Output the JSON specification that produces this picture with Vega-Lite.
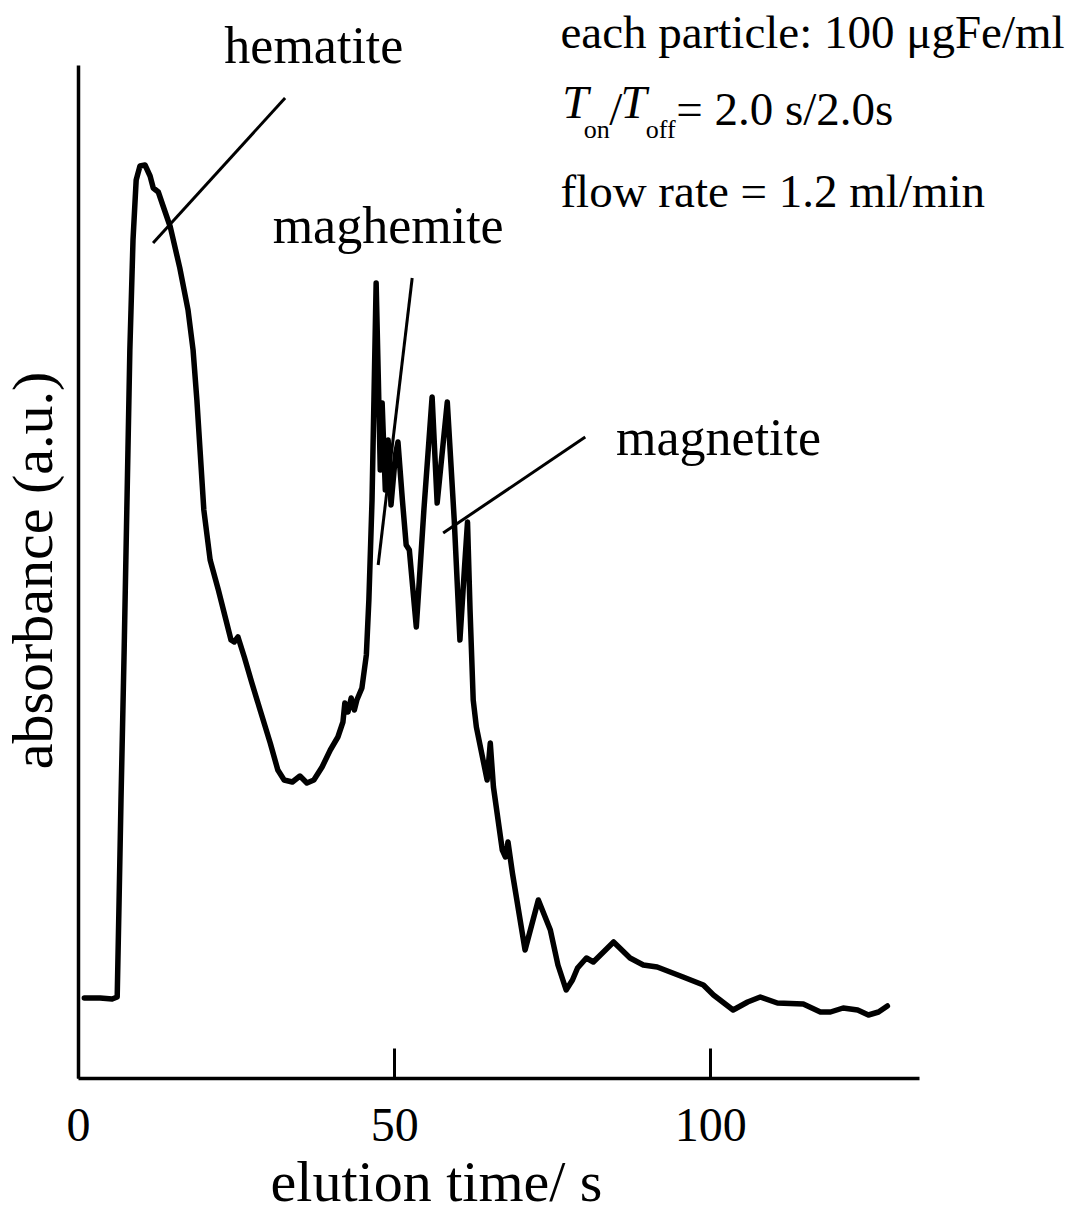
{
  "$schema": "https://vega.github.io/schema/vega-lite/v6.json",
  "width": 841,
  "height": 1013,
  "autosize": {"type": "none"},
  "padding": {"left": 78, "top": 65, "right": 168, "bottom": 151},
  "background": "white",
  "config": {"view": {"stroke": null}, "font": "Liberation Serif"},
  "datasets": {
    "curve": [
      {"t": 1.0, "a": 8.0}, {"t": 3.5, "a": 8.0}, {"t": 5.4, "a": 7.9}, {"t": 6.2, "a": 8.1},
      {"t": 6.5, "a": 17.8}, {"t": 6.8, "a": 27.8}, {"t": 7.3, "a": 42.8}, {"t": 7.75, "a": 57.8},
      {"t": 8.2, "a": 72.8}, {"t": 8.7, "a": 83.8}, {"t": 9.2, "a": 89.8}, {"t": 9.8, "a": 91.2},
      {"t": 10.6, "a": 91.3}, {"t": 11.4, "a": 90.2}, {"t": 11.9, "a": 89.0}, {"t": 12.7, "a": 88.6},
      {"t": 13.4, "a": 87.3}, {"t": 14.6, "a": 85.1}, {"t": 16.1, "a": 81.0}, {"t": 17.4, "a": 76.8},
      {"t": 18.2, "a": 72.8}, {"t": 18.8, "a": 67.8}, {"t": 19.3, "a": 62.8}, {"t": 19.9, "a": 56.8},
      {"t": 20.9, "a": 51.8}, {"t": 22.2, "a": 48.8}, {"t": 23.4, "a": 45.8}, {"t": 24.2, "a": 43.8},
      {"t": 24.7, "a": 43.6}, {"t": 25.3, "a": 44.1}, {"t": 26.3, "a": 42.1}, {"t": 27.5, "a": 39.5},
      {"t": 28.8, "a": 36.8}, {"t": 30.4, "a": 33.5}, {"t": 31.6, "a": 30.8}, {"t": 32.6, "a": 29.8},
      {"t": 33.9, "a": 29.6}, {"t": 35.1, "a": 30.2}, {"t": 36.2, "a": 29.5}, {"t": 37.3, "a": 29.8},
      {"t": 38.6, "a": 31.1}, {"t": 39.9, "a": 32.8}, {"t": 41.1, "a": 34.1}, {"t": 41.9, "a": 35.6},
      {"t": 42.2, "a": 37.5}, {"t": 42.7, "a": 36.6}, {"t": 43.2, "a": 38.0}, {"t": 43.7, "a": 36.8},
      {"t": 44.1, "a": 37.8}, {"t": 44.9, "a": 39.0}, {"t": 45.6, "a": 42.3}, {"t": 46.0, "a": 47.8},
      {"t": 46.5, "a": 57.8}, {"t": 46.8, "a": 67.8}, {"t": 47.15, "a": 79.5}, {"t": 47.5, "a": 69.8},
      {"t": 47.8, "a": 60.8}, {"t": 48.1, "a": 67.5}, {"t": 48.6, "a": 58.8}, {"t": 49.05, "a": 63.8},
      {"t": 49.5, "a": 57.3}, {"t": 50.2, "a": 62.3}, {"t": 50.6, "a": 63.6}, {"t": 51.3, "a": 57.8},
      {"t": 51.9, "a": 53.3}, {"t": 52.4, "a": 52.8}, {"t": 53.5, "a": 45.1}, {"t": 54.7, "a": 56.8},
      {"t": 56.0, "a": 68.1}, {"t": 56.8, "a": 57.5}, {"t": 58.4, "a": 67.6}, {"t": 59.5, "a": 55.8},
      {"t": 60.4, "a": 43.8}, {"t": 61.1, "a": 50.8}, {"t": 61.6, "a": 55.6}, {"t": 62.0, "a": 46.8},
      {"t": 62.5, "a": 37.8}, {"t": 63.0, "a": 35.1}, {"t": 64.7, "a": 29.8}, {"t": 65.2, "a": 33.5},
      {"t": 65.7, "a": 29.1}, {"t": 67.1, "a": 22.8}, {"t": 67.6, "a": 22.1}, {"t": 68.0, "a": 23.6},
      {"t": 68.7, "a": 20.5}, {"t": 70.7, "a": 12.8}, {"t": 72.8, "a": 17.8}, {"t": 74.7, "a": 14.8},
      {"t": 75.9, "a": 11.3}, {"t": 77.2, "a": 8.8}, {"t": 78.2, "a": 9.8}, {"t": 79.0, "a": 11.0},
      {"t": 80.4, "a": 12.0}, {"t": 81.5, "a": 11.6}, {"t": 84.7, "a": 13.6}, {"t": 87.3, "a": 12.0},
      {"t": 89.4, "a": 11.3}, {"t": 91.6, "a": 11.1}, {"t": 95.7, "a": 10.1}, {"t": 98.9, "a": 9.3},
      {"t": 100.5, "a": 8.3}, {"t": 103.6, "a": 6.8}, {"t": 105.9, "a": 7.6}, {"t": 107.9, "a": 8.1},
      {"t": 110.6, "a": 7.5}, {"t": 114.7, "a": 7.4}, {"t": 117.4, "a": 6.6}, {"t": 119.0, "a": 6.6},
      {"t": 121.0, "a": 7.0}, {"t": 123.3, "a": 6.8}, {"t": 125.0, "a": 6.3}, {"t": 126.6, "a": 6.6},
      {"t": 128.0, "a": 7.2}
    ],
    "pointers": [
      {"t": 32.75, "a": 98.0, "t2": 11.87, "a2": 83.5},
      {"t": 52.85, "a": 80.0, "t2": 47.47, "a2": 51.3},
      {"t": 80.22, "a": 64.1, "t2": 57.75, "a2": 54.5}
    ],
    "labels": [
      {"t": 37.3, "a": 101.5, "label": "hematite"},
      {"t": 49.05, "a": 83.5, "label": "maghemite"},
      {"t": 101.3, "a": 62.3, "label": "magnetite"}
    ],
    "info": [
      {"t": 76.3, "a": 103.0, "label": "each particle: 100 μgFe/ml"},
      {"t": 84.0, "a": 95.3, "label": "/"},
      {"t": 94.6, "a": 95.3, "label": "= 2.0 s/2.0s"},
      {"t": 76.3, "a": 87.1, "label": "flow rate = 1.2 ml/min"}
    ],
    "italicT": [
      {"t": 76.6, "a": 96.0, "label": "T"},
      {"t": 85.8, "a": 96.0, "label": "T"}
    ],
    "subs": [
      {"t": 80.0, "a": 94.0, "label": "on"},
      {"t": 89.8, "a": 94.0, "label": "off"}
    ]
  },
  "encoding": {
    "x": {
      "field": "t", "type": "quantitative",
      "scale": {"domain": [0, 133], "nice": false, "zero": false},
      "axis": {
        "values": [0, 50, 100],
        "grid": false,
        "domainColor": "black", "domainWidth": 3.5,
        "tickColor": "black", "tickWidth": 3, "tickSize": -30,
        "labelFont": "Liberation Serif", "labelFontSize": 48, "labelColor": "black",
        "labelBaseline": "alphabetic", "labelPadding": 92, "labelFlush": false,
        "title": "elution time/ s",
        "titleFont": "Liberation Serif", "titleFontSize": 58, "titleFontWeight": "normal", "titleColor": "black",
        "titleX": 358, "titleY": 122, "titleBaseline": "alphabetic", "titleAlign": "center"
      }
    },
    "y": {
      "field": "a", "type": "quantitative",
      "scale": {"domain": [0, 101.3], "nice": false, "zero": false},
      "axis": {
        "ticks": false, "labels": false, "grid": false,
        "domainColor": "black", "domainWidth": 3.5,
        "title": "absorbance (a.u.)",
        "titleFont": "Liberation Serif", "titleFontSize": 58, "titleFontWeight": "normal", "titleColor": "black",
        "titleAngle": -90, "titleX": -27, "titleY": 505, "titleBaseline": "alphabetic", "titleAlign": "center"
      }
    }
  },
  "layer": [
    {
      "data": {"name": "curve"},
      "mark": {"type": "line", "color": "black", "strokeWidth": 5.5, "strokeJoin": "round", "strokeCap": "round"}
    },
    {
      "data": {"name": "pointers"},
      "mark": {"type": "rule", "color": "black", "strokeWidth": 3},
      "encoding": {
        "x2": {"field": "t2"},
        "y2": {"field": "a2"}
      }
    },
    {
      "data": {"name": "labels"},
      "mark": {"type": "text", "align": "center", "baseline": "alphabetic", "font": "Liberation Serif", "fontSize": 52, "color": "black"},
      "encoding": {"text": {"field": "label"}}
    },
    {
      "data": {"name": "info"},
      "mark": {"type": "text", "align": "left", "baseline": "alphabetic", "font": "Liberation Serif", "fontSize": 47, "color": "black"},
      "encoding": {"text": {"field": "label"}}
    },
    {
      "data": {"name": "italicT"},
      "mark": {"type": "text", "align": "left", "baseline": "alphabetic", "font": "Liberation Serif", "fontStyle": "italic", "fontSize": 47, "color": "black"},
      "encoding": {"text": {"field": "label"}}
    },
    {
      "data": {"name": "subs"},
      "mark": {"type": "text", "align": "left", "baseline": "alphabetic", "font": "Liberation Serif", "fontSize": 26, "color": "black"},
      "encoding": {"text": {"field": "label"}}
    }
  ]
}
